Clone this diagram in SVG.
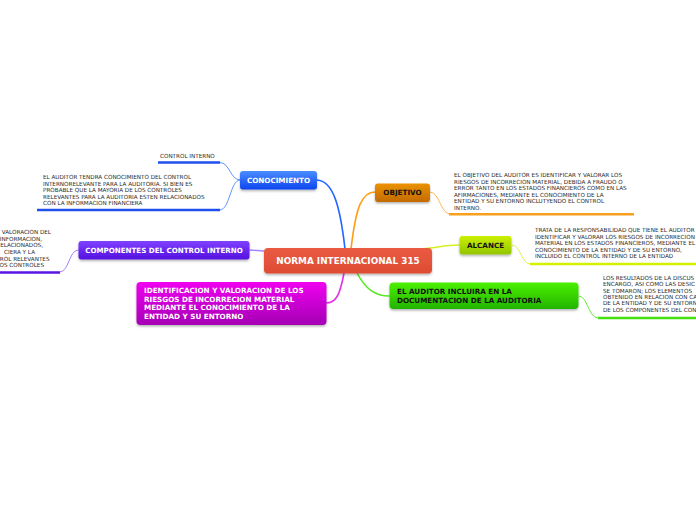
<svg xmlns="http://www.w3.org/2000/svg" width="696" height="520" viewBox="0 0 696 520">
<defs>
<linearGradient id="gBlue" x1="0" y1="0" x2="0" y2="1"><stop offset="0" stop-color="#4a8dff"/><stop offset="1" stop-color="#0d45ee"/></linearGradient>
<linearGradient id="gOrange" x1="0" y1="0" x2="0" y2="1"><stop offset="0" stop-color="#ea9200"/><stop offset="1" stop-color="#c46a00"/></linearGradient>
<linearGradient id="gYellow" x1="0" y1="0" x2="0" y2="1"><stop offset="0" stop-color="#ccf000"/><stop offset="1" stop-color="#92c400"/></linearGradient>
<linearGradient id="gPurple" x1="0" y1="0" x2="0" y2="1"><stop offset="0" stop-color="#8040ff"/><stop offset="1" stop-color="#5510e0"/></linearGradient>
<linearGradient id="gMagenta" x1="0" y1="0" x2="0" y2="1"><stop offset="0" stop-color="#f000f0"/><stop offset="1" stop-color="#a400b4"/></linearGradient>
<linearGradient id="gGreen" x1="0" y1="0" x2="0" y2="1"><stop offset="0" stop-color="#4cf000"/><stop offset="1" stop-color="#22b400"/></linearGradient>
<linearGradient id="gRed" x1="0" y1="0" x2="0" y2="1"><stop offset="0" stop-color="#ea5a42"/><stop offset="1" stop-color="#de4c34"/></linearGradient>
<filter id="sh" x="-10%" y="-20%" width="120%" height="150%"><feDropShadow dx="0" dy="1.5" stdDeviation="1.2" flood-color="#000" flood-opacity="0.3"/></filter>
</defs>
<style>
.lbl{font-family:"DejaVu Sans",Verdana,sans-serif;font-weight:bold;}
.w{fill:#ffffff;}
.k{fill:#111111;}
.t{font-family:"DejaVu Sans",Verdana,sans-serif;font-size:5.65px;fill:#2a2a2a;}
.c{fill:none;stroke-linecap:round;}
.main{stroke-width:1.6;}
.thin{stroke-width:0.9;}
.ul{stroke-width:2.6;fill:none;}
</style>
<g id="connectors">
<path class="c main" d="M345,249 C340,205 333,181 317,180" stroke="#2466ff"/>
<path class="c main" d="M351,249 C356,206 362,192 375,192" stroke="#ff9c14"/>
<path class="c main" d="M420,249 C436,248 444,245 459,245" stroke="#d4f020"/>
<path class="c main" d="M357,273 C366,290 376,296 389,296" stroke="#58e820"/>
<path class="c main" d="M344,273 C340,295 336,303 326,303" stroke="#e434e4"/>
<path class="c main" d="M250,250 L264,251" stroke="#a486ff"/>
<path class="c thin" d="M240,180 C230,180 230,162.5 220,162.5" stroke="#4f86ff"/>
<path class="c thin" d="M240,180 C230,180 230,210 220,210" stroke="#4f86ff"/>
<path class="c thin" d="M430,192 C440,192 440,214 450,214" stroke="#ffb040"/>
<path class="c thin" d="M512,245 C521,245 521,264 530,264" stroke="#d8f040"/>
<path class="c thin" d="M579,296 C588,296 588,318 598,318" stroke="#58e820"/>
<path class="c thin" d="M78,250 C69,250 69,272 60,272" stroke="#9a70ff"/>
</g>
<g id="center">
<rect x="264" y="248" width="168" height="25.5" rx="4" fill="url(#gRed)" filter="url(#sh)"/>
<text class="lbl w" x="348" y="264.3" font-size="8.9" text-anchor="middle">NORMA INTERNACIONAL 315</text>
</g>
<g id="conocimiento">
<rect x="240" y="171" width="77" height="18.5" rx="3" fill="url(#gBlue)" filter="url(#sh)"/>
<text class="lbl w" x="278.5" y="182.8" font-size="7.2" text-anchor="middle">CONOCIMIENTO</text>
</g>
<g id="control-interno">
<line class="ul" x1="158" y1="162.5" x2="220" y2="162.5" stroke="#1f50ee" stroke-width="2"/>
<text class="t" x="160" y="158">CONTROL INTERNO</text>
</g>
<g id="conocimiento-texto">
<line class="ul" x1="37" y1="210" x2="220" y2="210" stroke="#1f50ee"/>
<text class="t" x="43" y="179.3">EL AUDITOR TENDRA CONOCIMIENTO DEL CONTROL</text>
<text class="t" x="43" y="185.8">INTERNORELEVANTE PARA LA AUDITORIA. SI BIEN ES</text>
<text class="t" x="43" y="192.3">PROBABLE QUE LA MAYORIA DE LOS CONTROLES</text>
<text class="t" x="43" y="198.8">RELEVANTES PARA LA AUDITORIA ESTEN RELACIONADOS</text>
<text class="t" x="43" y="205.3">CON LA INFORMACION FINANCIERA</text>
</g>
<g id="objetivo">
<rect x="375" y="183.5" width="55" height="18.5" rx="3" fill="url(#gOrange)" filter="url(#sh)"/>
<text class="lbl k" x="402.5" y="195.3" font-size="7.2" text-anchor="middle">OBJETIVO</text>
</g>
<g id="objetivo-texto">
<line class="ul" x1="449" y1="214.3" x2="634" y2="214.3" stroke="#f7a020"/>
<text class="t" x="454" y="177">EL OBJETIVO DEL AUDITOR ES IDENTIFICAR Y VALORAR LOS</text>
<text class="t" x="454" y="183.5">RIESGOS DE INCORRECION MATERIAL, DEBIDA A FRAUDO O</text>
<text class="t" x="454" y="190">ERROR TANTO EN LOS ESTADOS FINANCIEROS COMO EN LAS</text>
<text class="t" x="454" y="196.5">AFIRMACIONES, MEDIANTE EL CONOCIMIENTO DE LA</text>
<text class="t" x="454" y="203">ENTIDAD Y SU ENTORNO INCLUTYENDO EL CONTROL</text>
<text class="t" x="454" y="209.5">INTERNO.</text>
</g>
<g id="alcance">
<rect x="459.5" y="236" width="52" height="18.5" rx="3" fill="url(#gYellow)" filter="url(#sh)"/>
<text class="lbl k" x="485.5" y="247.8" font-size="7.2" text-anchor="middle">ALCANCE</text>
</g>
<g id="alcance-texto">
<line class="ul" x1="530" y1="264" x2="696" y2="264" stroke="#d2f200"/>
<text class="t" x="535" y="232">TRATA DE LA RESPONSABILIDAD QUE TIENE EL AUDITOR</text>
<text class="t" x="535" y="238.5">IDENTIFICAR Y VALORAR LOS RIESGOS DE INCORRECION</text>
<text class="t" x="535" y="245">MATERIAL EN LOS ESTADOS FINANCIEROS, MEDIANTE EL</text>
<text class="t" x="535" y="251.5">CONOCIMIENTO DE LA ENTIDAD Y DE SU ENTORNO,</text>
<text class="t" x="535" y="258">INCLUIDO EL CONTROL INTERNO DE LA ENTIDAD</text>
</g>
<g id="componentes">
<rect x="78.5" y="241" width="171" height="18.5" rx="3" fill="url(#gPurple)" filter="url(#sh)"/>
<text class="lbl w" x="164" y="252.8" font-size="7.1" text-anchor="middle">COMPONENTES DEL CONTROL INTERNO</text>
</g>
<g id="componentes-texto">
<line class="ul" x1="0" y1="272.5" x2="60" y2="272.5" stroke="#5a14e4"/>
<text class="t" x="51" y="233.8" text-anchor="end">VALORACION DEL</text>
<text class="t" x="42" y="240.5" text-anchor="end">INFORMACION,</text>
<text class="t" x="43" y="247.2" text-anchor="end">ELACIONADOS,</text>
<text class="t" x="35" y="253.9" text-anchor="end">CIERA Y LA</text>
<text class="t" x="49.5" y="260.6" text-anchor="end">ROL RELEVANTES</text>
<text class="t" x="44" y="267.3" text-anchor="end">OS CONTROLES</text>
</g>
<g id="identificacion">
<rect x="136.5" y="282" width="190" height="43" rx="4" fill="url(#gMagenta)" filter="url(#sh)"/>
<text class="lbl w" x="144" y="293.4" font-size="7.2">IDENTIFICACION Y VALORACION DE LOS</text>
<text class="lbl w" x="144" y="301.9" font-size="7.2">RIESGOS DE INCORRECION MATERIAL</text>
<text class="lbl w" x="144" y="310.4" font-size="7.2">MEDIANTE EL CONOCIMIENTO DE LA</text>
<text class="lbl w" x="144" y="318.9" font-size="7.2">ENTIDAD Y SU ENTORNO</text>
</g>
<g id="auditor">
<rect x="389.5" y="282.5" width="189" height="26.5" rx="4" fill="url(#gGreen)" filter="url(#sh)"/>
<text class="lbl k" x="397" y="294.3" font-size="7.2">EL AUDITOR INCLUIRA EN LA</text>
<text class="lbl k" x="397" y="303.3" font-size="7.2">DOCUMENTACION DE LA AUDITORIA</text>
</g>
<g id="auditor-texto">
<line class="ul" x1="598" y1="318" x2="696" y2="318" stroke="#44e010"/>
<text class="t" x="603" y="280">LOS RESULTADOS DE LA DISCUS</text>
<text class="t" x="603" y="286.3">ENCARGO, ASI COMO LAS DESIC</text>
<text class="t" x="603" y="292.7">SE TOMARON; LOS ELEMENTOS</text>
<text class="t" x="603" y="299">OBTENIDO EN RELACION CON CA</text>
<text class="t" x="603" y="305.3">DE LA ENTIDAD Y DE SU ENTORN</text>
<text class="t" x="603" y="311.7">DE LOS COMPONENTES DEL CON</text>
</g>
</svg>
